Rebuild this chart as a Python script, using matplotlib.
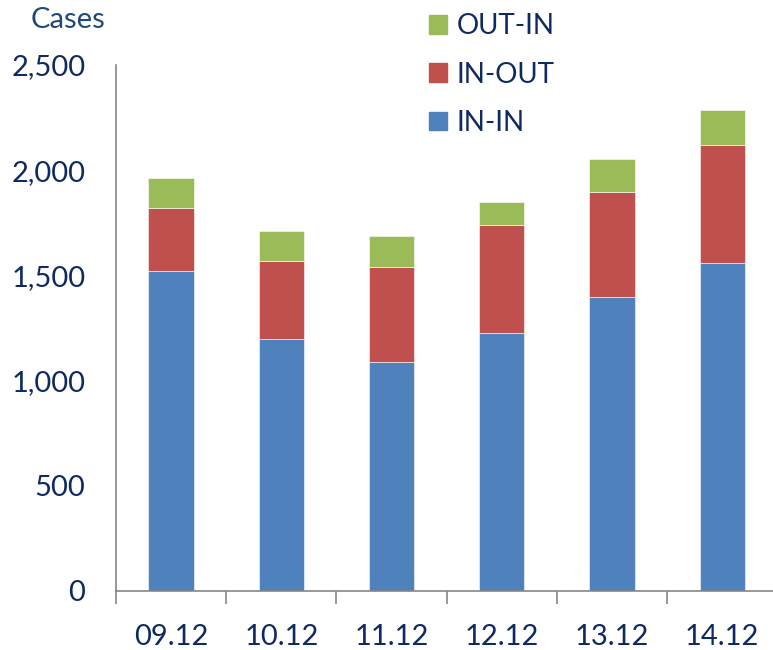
import matplotlib.pyplot as plt
import numpy as np
from matplotlib.ticker import FuncFormatter, FixedLocator
from matplotlib.patches import Patch

dates = ['09.12', '10.12', '11.12', '12.12', '13.12', '14.12']
in_in = [1521, 1196, 1088, 1225, 1399, 1557]
in_out = [301, 371, 453, 515, 499, 563]
out_in = [139, 144, 146, 107, 154, 166]

blue = '#4F81BD'
red = '#C0504D'
green = '#9BBB59'
txt = '#0F2A62'

plt.rcParams['font.family'] = ['Lato', 'DejaVu Sans']

fig = plt.figure(figsize=(7.73, 6.5), dpi=100)
ax = fig.add_axes([0.150, 0.091, 0.85, 0.809])

x = np.arange(len(dates))
w = 0.41
bottom2 = np.array(in_in)
bottom3 = bottom2 + np.array(in_out)
ax.bar(x, in_in, w, color=blue, edgecolor='white', linewidth=0.4)
ax.bar(x, in_out, w, bottom=bottom2, color=red, edgecolor='white', linewidth=0.4)
ax.bar(x, out_in, w, bottom=bottom3, color=green, edgecolor='white', linewidth=0.4)

ax.set_ylim(0, 2500)
ax.set_xlim(-0.5, 5.46)
ax.set_yticks([0, 500, 1000, 1500, 2000, 2500])
ax.yaxis.set_major_formatter(FuncFormatter(lambda v, p: f'{int(v):,}'))
ax.set_xticks(x)
ax.set_xticklabels(dates)
ax.xaxis.set_minor_locator(FixedLocator(np.arange(-0.5, 5.6, 1)))

for s in ['top', 'right']:
    ax.spines[s].set_visible(False)
for s in ['left', 'bottom']:
    ax.spines[s].set_color('#868686')
    ax.spines[s].set_linewidth(1.2)

ax.tick_params(axis='y', length=0, pad=22, labelsize=21, labelcolor=txt)
ax.tick_params(axis='x', which='major', length=0, pad=24, labelsize=21, labelcolor=txt)
ax.tick_params(axis='x', which='minor', length=9, width=1.2, color='#868686')

fig.text(0.039, 0.969, 'Cases', fontsize=21, color='#1F497D', va='center', ha='left')

handles = [Patch(color=green), Patch(color=red), Patch(color=blue)]
labels = ['OUT-IN', 'IN-OUT', 'IN-IN']
leg = fig.legend(handles, labels, loc='upper left', bbox_to_anchor=(0.522, 1.018),
                 frameon=False, fontsize=20, handlelength=0.65, handleheight=0.65,
                 labelspacing=0.8, handletextpad=0.35)
for t in leg.get_texts():
    t.set_color(txt)

fig.savefig('out.png', dpi=100)
